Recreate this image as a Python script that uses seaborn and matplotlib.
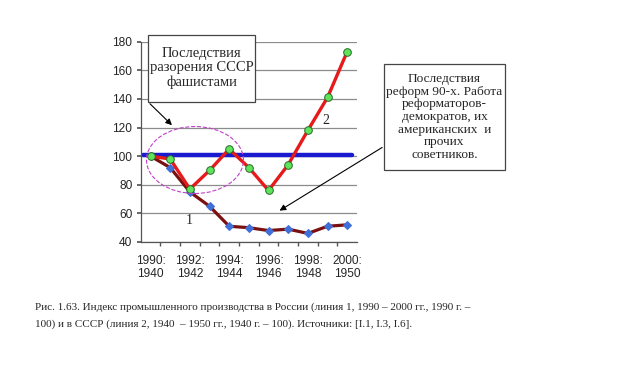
import numpy as np
import pandas as pd
import matplotlib
matplotlib.use("Agg")
import matplotlib.pyplot as plt
from matplotlib.patches import Ellipse, Rectangle
import seaborn as sns

# --- data ---
years_ru = [1990, 1991, 1992, 1993, 1994, 1995, 1996, 1997, 1998, 1999, 2000]
years_su = [1940, 1941, 1942, 1943, 1944, 1945, 1946, 1947, 1948, 1949, 1950]
russia_index = [100, 92, 75, 65, 51, 50, 48, 49, 46, 51, 52]      # line 1
ussr_index = [100, 98, 77, 90, 105, 92, 76, 94, 118, 141, 173]    # line 2
base_level = 101

tick_years = years_ru[::2]
tick_labels = [f"{a}:\n{b}" for a, b in zip(years_ru[::2], years_su[::2])]

df = pd.DataFrame({"year": years_ru, "russia": russia_index, "ussr": ussr_index})

sns.set_theme(style="white")
plt.rcParams["font.family"] = ["Liberation Sans", "DejaVu Sans"]
serif = ["Liberation Serif", "DejaVu Serif"]

W, H = 640, 372
fig = plt.figure(figsize=(W / 100, H / 100), dpi=100)


def fx(px):
    return px / W


def fy(py):
    return 1 - py / H


ax = fig.add_axes([fx(140.7), fy(242), (357 - 140.7) / W, (242 - 41.7) / H])

ax.set_ylim(40, 180)
ax.set_xlim(years_ru[0] - 0.5, years_ru[-1] + 0.5)
ax.yaxis.grid(True, color="#8c8c8c", linewidth=0.9)
ax.set_axisbelow(True)

# thick blue reference line
ax.axhline(base_level, xmin=0.01, xmax=0.978, color="#1a1ad0", linewidth=3.2, zorder=2)

sns.lineplot(data=df, x="year", y="russia", ax=ax, color="#7a1010", linewidth=2.3,
             marker="D", markersize=4.5, markerfacecolor="#3f70d8",
             markeredgecolor="#3f70d8", zorder=3)
sns.lineplot(data=df, x="year", y="ussr", ax=ax, color="#e61a1a", linewidth=2.4,
             marker="o", markersize=5.5, markerfacecolor="#5fe35a",
             markeredgecolor="#2a6a2a", markeredgewidth=0.7, zorder=4)

ax.set_xlabel("")
ax.set_ylabel("")
ax.set_yticks(range(40, 181, 20))
ax.set_xticks(tick_years)
ax.set_xticklabels(tick_labels, fontsize=8.6, linespacing=1.15)
ax.tick_params(axis="y", labelsize=8.6, length=3, left=True, color="#555555", pad=3)
ax.set_xticks([y + 0.5 for y in years_ru[:-1]], minor=True)
ax.tick_params(axis="x", which="major", length=0, pad=9)
ax.tick_params(axis="x", which="minor", length=3, bottom=True, color="#555555")

for s in ["top", "right"]:
    ax.spines[s].set_visible(False)
for s in ["left", "bottom"]:
    ax.spines[s].set_color("#555555")
    ax.spines[s].set_linewidth(0.9)

# dashed ellipse around the early dip
ax.add_patch(Ellipse((1992.26, 97.3), 4.93, 46.8, fill=False, linestyle="--",
                     edgecolor="#c040c8", linewidth=0.8, zorder=5))

ax.text(1991.95, 55.3, "1", fontsize=10, family=serif, ha="center", va="center")
ax.text(1998.94, 125.2, "2", fontsize=10, family=serif, ha="center", va="center")

# annotation boxes
fig.patches.append(Rectangle((fx(148.3), fy(102)), (255 - 148.3) / W, (102 - 35) / H,
                             transform=fig.transFigure, facecolor="white",
                             edgecolor="#444444", linewidth=0.9, zorder=10))
fig.text(fx(201.6), fy(68), "Последствия\nразорения СССР\nфашистами",
         fontsize=10.5, family=serif, ha="center", va="center", linespacing=1.1,
         zorder=11)

fig.patches.append(Rectangle((fx(384), fy(170)), (505 - 384) / W, (170 - 64) / H,
                             transform=fig.transFigure, facecolor="white",
                             edgecolor="#444444", linewidth=0.9, zorder=10))
fig.text(fx(444.5), fy(117), "Последствия\nреформ 90-х. Работа\nреформаторов-\nдемократов, их\n"
         "американских  и\nпрочих\nсоветников.",
         fontsize=9.6, family=serif, ha="center", va="center", linespacing=1.07, zorder=11)

arrow = dict(arrowstyle="-|>", color="black", linewidth=0.8, mutation_scale=9)
ax.annotate("", xy=(1991.19, 120.3), xytext=(1989.87, 138.0), arrowprops=arrow,
            annotation_clip=False, zorder=11)
ax.annotate("", xy=(1996.44, 60.9), xytext=(2001.9, 107.1), arrowprops=arrow,
            annotation_clip=False, zorder=11)

# caption
fig.text(fx(35), fy(310),
         "Рис. 1.63. Индекс промышленного производства в России (линия 1, 1990 – 2000 гг., 1990 г. –",
         fontsize=8.0, family=serif, ha="left", va="baseline")
fig.text(fx(35), fy(326.5),
         "100) и в СССР (линия 2, 1940  – 1950 гг., 1940 г. – 100). Источники: [I.1, I.3, I.6].",
         fontsize=8.0, family=serif, ha="left", va="baseline")

fig.savefig("out.png", dpi=100)
